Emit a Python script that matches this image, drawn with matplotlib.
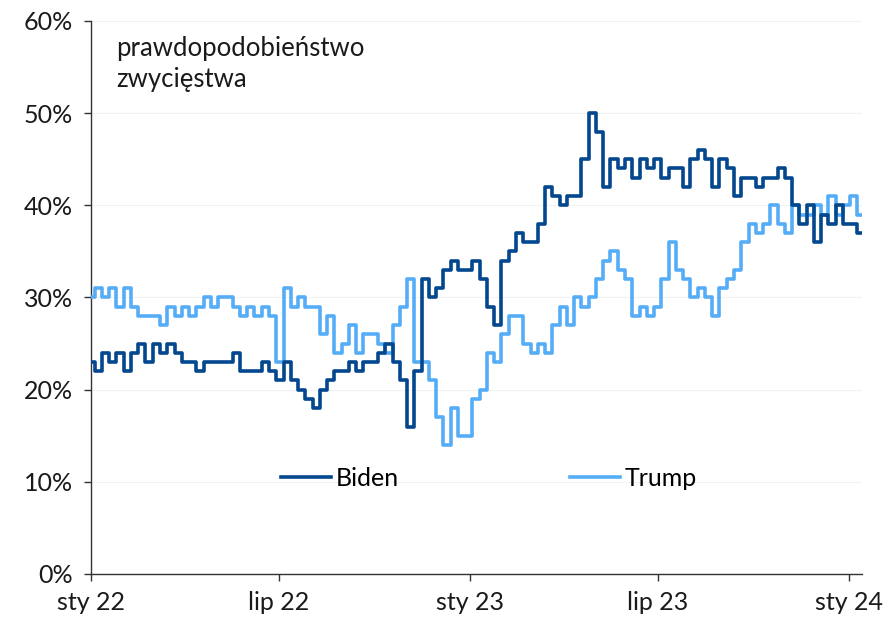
import numpy as np
import pandas as pd
import matplotlib
matplotlib.use("Agg")
import matplotlib.pyplot as plt
import matplotlib.dates as mdates
from matplotlib.ticker import FixedLocator, FuncFormatter

plt.rcParams["font.family"] = ["Lato", "DejaVu Sans"]

# weekly readings (%) from 2022-01-01
START = "2022-01-01"
biden = [23, 22, 24, 23, 24, 22, 24, 25, 23, 25, 24, 25, 24, 23, 23, 22,
         23, 23, 23, 23, 24, 22, 22, 22, 23, 22, 21, 23, 21, 20, 19, 18,
         20, 21, 22, 22, 23, 22, 23, 23, 24, 25, 23, 21, 16, 22, 32, 30,
         31, 33, 34, 33, 33, 34, 32, 29, 27, 34, 35, 37, 36, 36, 38, 42,
         41, 40, 41, 41, 45, 50, 48, 42, 45, 44, 45, 43, 45, 44, 45, 43,
         44, 44, 42, 45, 46, 45, 42, 45, 44, 41, 43, 43, 42, 43, 43, 44,
         43, 40, 38, 40, 36, 39, 38, 40, 38, 38, 37]
trump = [30, 31, 30, 31, 29, 31, 29, 28, 28, 28, 27, 29, 28, 29, 28, 29,
         30, 29, 30, 30, 29, 28, 29, 28, 29, 28, 23, 31, 29, 30, 29, 29,
         26, 28, 24, 25, 27, 24, 26, 26, 25, 24, 27, 29, 32, 23, 23, 21,
         17, 14, 18, 15, 15, 19, 20, 24, 23, 26, 28, 28, 25, 24, 25, 24,
         27, 29, 27, 30, 29, 30, 32, 34, 35, 33, 32, 28, 29, 28, 29, 32,
         36, 33, 32, 30, 31, 30, 28, 31, 32, 33, 36, 38, 37, 38, 40, 38,
         37, 40, 39, 39, 40, 39, 41, 39, 40, 41, 39]
series_names = ["Biden", "Trump"]
tick_dates = ["2022-01-01", "2022-07-01", "2023-01-01", "2023-07-01", "2024-01-01"]
tick_labels = ["sty 22", "lip 22", "sty 23", "lip 23", "sty 24"]
y_ticks = [0, 10, 20, 30, 40, 50, 60]
note = "prawdopodobieństwo\nzwycięstwa"

DARK, LIGHT = "#03478F", "#55ADF7"

dates = pd.date_range(START, periods=len(biden), freq="7D")

fig = plt.figure(figsize=(8.87, 6.23), dpi=100)
ax = fig.add_axes([0.1026, 0.0787, 0.8694, 0.8876])

ax.plot(dates, trump, color=LIGHT, lw=2.6, drawstyle="steps-mid",
        label=series_names[1], zorder=3)
ax.plot(dates, biden, color=DARK, lw=2.6, drawstyle="steps-mid",
        label=series_names[0], zorder=4)

ax.set_ylim(0, 60)
ax.set_xlim(pd.Timestamp("2022-01-01"), pd.Timestamp("2024-01-14"))
ax.set_yticks(y_ticks)
ax.yaxis.set_major_formatter(FuncFormatter(lambda v, p: f"{v:.0f}%"))
ax.xaxis.set_major_locator(FixedLocator(mdates.date2num(pd.to_datetime(tick_dates))))
ax.set_xticklabels(tick_labels)
ax.grid(axis="y", color="#f2f2f2", lw=0.8, zorder=0)
ax.set_axisbelow(True)
for s in ["top", "right"]:
    ax.spines[s].set_visible(False)
for s in ["left", "bottom"]:
    ax.spines[s].set_color("#333333")
    ax.spines[s].set_linewidth(1.0)
ax.tick_params(axis="both", labelsize=18, length=5, width=1.0, color="#333333",
               labelcolor="#1a1a1a")
ax.tick_params(axis="y", pad=8)
ax.tick_params(axis="x", pad=7)

ax.text(0.033, 0.972, note, transform=ax.transAxes, ha="left", va="top",
        fontsize=18.5, color="#1a1a1a", linespacing=1.3)

h, l = ax.get_legend_handles_labels()
ax.legend(h[::-1], l[::-1], ncol=2, loc="center", bbox_to_anchor=(0.516, 0.173),
          frameon=False, fontsize=18, handlelength=2.0, handletextpad=0.2,
          columnspacing=6.85)

fig.savefig("out.png", dpi=100)
